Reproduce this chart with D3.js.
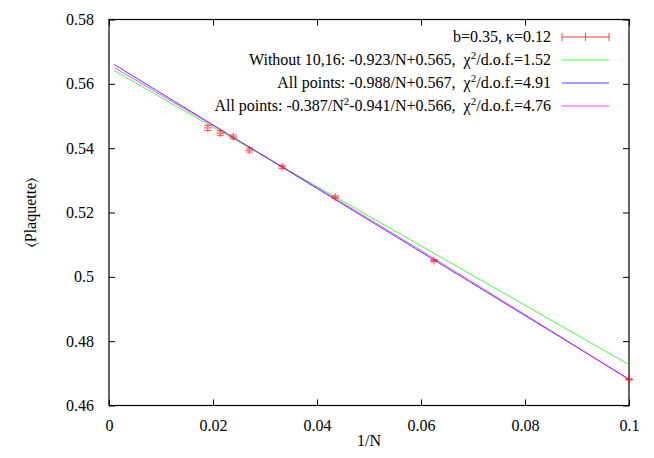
<!DOCTYPE html>
<html><head><meta charset="utf-8">
<script src="https://cdn.jsdelivr.net/npm/d3@7"></script>
<style>body{margin:0;background:#fff}</style>
</head><body><svg id="c" width="654" height="458"></svg>
<script>
// Data
const invN = [0.019, 0.0214, 0.0239, 0.027, 0.0333, 0.0435, 0.0625, 0.1];
const plaq = [0.5463, 0.5447, 0.5435, 0.5394, 0.5342, 0.5248, 0.5050, 0.4681];
const errs = [0.0008, 0.0007, 0.0006, 0.0006, 0.0005, 0.0004, 0.0003, 0.0002];
const xTicks = [0, 0.02, 0.04, 0.06, 0.08, 0.1];
const yTicks = [0.46, 0.48, 0.5, 0.52, 0.54, 0.56, 0.58];
const fitGreen = {a2: 0, a1: -0.923, a0: 0.565};
const fitBlue = {a2: 0, a1: -0.988, a0: 0.567};
const fitMagenta = {a2: -0.387, a1: -0.941, a0: 0.566};
const fitRange = [0.001, 0.1];

const FONT = "'Liberation Serif', Tinos, 'Times New Roman', Times, 'Nimbus Roman', 'Nimbus Roman No9 L', FreeSerif, 'Noto Serif', 'DejaVu Serif', serif";
const svg = d3.select("#c");
const L = 109, R = 629, T = 19.5, B = 405.5;
const x = d3.scaleLinear().domain([0, 0.1]).range([L, R]);
const y = d3.scaleLinear().domain([0.46, 0.58]).range([B, T]);

const fmt = d => d3.format("~g")(d);
svg.append("g").attr("transform", `translate(0,${B})`)
  .call(d3.axisBottom(x).tickValues(xTicks).tickSize(-6).tickPadding(14).tickFormat(fmt))
  .call(g => g.select(".domain").remove());
svg.append("g").attr("transform", `translate(0,${T})`)
  .call(d3.axisTop(x).tickValues(xTicks).tickSize(-6).tickFormat(""))
  .call(g => g.select(".domain").remove());
svg.append("g").attr("transform", `translate(${L},0)`)
  .call(d3.axisLeft(y).tickValues(yTicks).tickSize(-6).tickPadding(15).tickFormat(fmt))
  .call(g => g.select(".domain").remove());
svg.append("g").attr("transform", `translate(${R},0)`)
  .call(d3.axisRight(y).tickValues(yTicks).tickSize(-6).tickFormat(""))
  .call(g => g.select(".domain").remove());
svg.selectAll("g").attr("font-family", null).attr("font-size", null);
svg.selectAll(".tick line").attr("stroke", "#000");
svg.append("rect").attr("x", L).attr("y", T).attr("width", R - L).attr("height", B - T)
  .attr("fill", "none").attr("stroke", "#000").attr("stroke-width", 1.2);

// fit lines
const xs = d3.range(0, 201).map(i => fitRange[0] + (fitRange[1] - fitRange[0]) * i / 200);
const line = d3.line().x(d => x(d[0])).y(d => y(d[1]));
[[fitGreen, "#00ff00"], [fitBlue, "#0000ff"], [fitMagenta, "#ff00ff"]].forEach(([f, c]) => {
  svg.append("path").attr("d", line(xs.map(v => [v, f.a0 + f.a1 * v + f.a2 * v * v])))
    .attr("fill", "none").attr("stroke", c).attr("stroke-width", 1).attr("opacity", 0.75);
});

// data points with error bars
const red = "#ff0000";
const pts = svg.append("g").attr("stroke", red).attr("stroke-width", 1).attr("opacity", 0.7);
invN.forEach((v, i) => {
  const cx = x(v), cy = y(plaq[i]), y1 = y(plaq[i] + errs[i]), y2 = y(plaq[i] - errs[i]);
  pts.append("line").attr("x1", cx).attr("x2", cx).attr("y1", Math.min(y1, cy - 4)).attr("y2", Math.max(y2, cy + 4));
  pts.append("line").attr("x1", cx - 4).attr("x2", cx + 4).attr("y1", cy).attr("y2", cy);
  pts.append("line").attr("x1", cx - 3.5).attr("x2", cx + 3.5).attr("y1", y1).attr("y2", y1);
  pts.append("line").attr("x1", cx - 3.5).attr("x2", cx + 3.5).attr("y1", y2).attr("y2", y2);
});

// legend
const lg = svg.append("g");
const lx = 551, sx1 = 562, sx2 = 609;
const rows = [37, 60, 83, 106];
function addText(yy, parts) {
  const t = lg.append("text").attr("x", lx).attr("y", yy + 5).attr("text-anchor", "end")
    .attr("xml:space", "preserve").style("white-space", "pre");
  let pendingDy = 0;
  parts.forEach(p => {
    if (typeof p === "string") {
      const s = t.append("tspan").text(p);
      if (pendingDy) { s.attr("dy", pendingDy); pendingDy = 0; }
    } else {
      t.append("tspan").attr("dy", -6).style("font-size", "11px").text(p.sup);
      pendingDy = 6;
    }
  });
}
addText(rows[0], ["b=0.35, κ=0.12"]);
addText(rows[1], ["Without 10,16: -0.923/N+0.565,  χ", {sup: "2"}, "/d.o.f.=1.52"]);
addText(rows[2], ["All points: -0.988/N+0.567,  χ", {sup: "2"}, "/d.o.f.=4.91"]);
addText(rows[3], ["All points: -0.387/N", {sup: "2"}, "-0.941/N+0.566,  χ", {sup: "2"}, "/d.o.f.=4.76"]);
const lr = lg.append("g").attr("stroke", red).attr("opacity", 0.75);
lr.append("line").attr("x1", sx1).attr("x2", sx2).attr("y1", rows[0]).attr("y2", rows[0]);
lr.append("line").attr("x1", sx1).attr("x2", sx1).attr("y1", rows[0] - 4).attr("y2", rows[0] + 4);
lr.append("line").attr("x1", sx2).attr("x2", sx2).attr("y1", rows[0] - 4).attr("y2", rows[0] + 4);
lr.append("line").attr("x1", (sx1 + sx2) / 2).attr("x2", (sx1 + sx2) / 2).attr("y1", rows[0] - 4).attr("y2", rows[0] + 4);
[["#00ff00", 1], ["#0000ff", 2], ["#ff00ff", 3]].forEach(([c, i]) => {
  lg.append("line").attr("x1", sx1).attr("x2", sx2).attr("y1", rows[i]).attr("y2", rows[i])
    .attr("stroke", c).attr("opacity", 0.75);
});

// axis titles
svg.append("text").attr("x", (L + R) / 2).attr("y", 446).attr("text-anchor", "middle").text("1/N");
svg.append("text").attr("transform", `translate(36,${(T + B) / 2}) rotate(-90)`)
  .attr("text-anchor", "middle").text("⟨Plaquette⟩");

svg.selectAll("text").style("font-family", FONT).style("fill", "#000")
  .each(function () { if (!this.style.fontSize) this.style.fontSize = "16px"; });
svg.selectAll("tspan").each(function () { if (!this.style.fontSize) this.style.fontSize = "16px"; });
</script></body></html>
